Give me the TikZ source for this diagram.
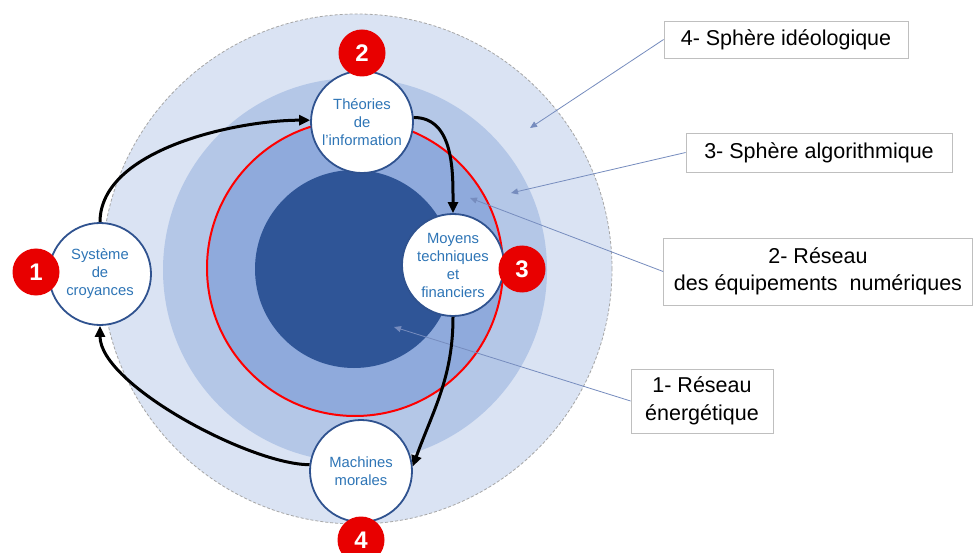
\documentclass[tikz,border=0pt]{standalone}
\usepackage{fontspec}
\setmainfont{Liberation Sans}
\usetikzlibrary{arrows.meta}
\definecolor{sphereIdeo}{RGB}{218,227,243}
\definecolor{sphereAlgo}{RGB}{180,199,231}
\definecolor{reseauNum}{RGB}{143,170,220}
\definecolor{reseauEnergie}{RGB}{47,85,151}
\definecolor{rimGrey}{RGB}{166,166,166}
\definecolor{nodeRim}{RGB}{47,82,143}
\definecolor{nodeText}{RGB}{46,117,182}
\definecolor{badgeRed}{RGB}{232,0,0}
\definecolor{boxRim}{RGB}{191,191,191}
\definecolor{leader}{RGB}{118,140,190}
\begin{document}
\begin{tikzpicture}[x=1pt,y=1pt,
  stage/.style={circle, draw=nodeRim, line width=1.8pt, fill=white, minimum size=102pt,
    inner sep=0pt, align=center, text=nodeText, font=\fontsize{14.8}{18}\selectfont},
  badge/.style={circle, fill=badgeRed, minimum size=47pt, inner sep=0pt, text=white,
    font=\fontsize{24}{24}\bfseries\selectfont},
  legend/.style={draw=boxRim, line width=0.8pt, fill=white, align=center, inner sep=0pt,
    font=\fontsize{21.5}{27.5}\selectfont},
  flow/.style={line width=3pt, -{Triangle[length=11pt,width=10pt]}},
  pointer/.style={draw=leader, line width=0.8pt, -{Triangle[length=7pt,width=6pt]}}
]
\useasboundingbox (0,0) rectangle (973,552);
\clip (0,0) rectangle (973,552);
\fill[white] (0,0) rectangle (973,552);

% concentric spheres
\filldraw[fill=sphereIdeo, draw=rimGrey, line width=0.8pt, dash pattern=on 3pt off 2pt]
  (357,283) circle[radius=255];
\fill[sphereAlgo] (355,282) circle[radius=192];
\fill[reseauNum] (355,284) circle[radius=148];
\fill[reseauEnergie] (354,283) circle[radius=99];
\draw[red, line width=2pt] (355,284) circle[radius=148];

% legend boxes
\node[legend, minimum width=244pt, minimum height=37pt] (l4) at (786,512.5) {4- Sphère idéologique};
\node[legend, minimum width=266pt, minimum height=39pt] (l3) at (819,399.5) {3- Sphère algorithmique};
\node[legend, minimum width=309pt, minimum height=67pt] (l2) at (818,280.5) {2- Réseau\\des équipements\ \ numériques};
\node[legend, minimum width=142pt, minimum height=64pt] (l1) at (702,151) {1- Réseau\\énergétique};

% leader lines into the spheres
\coordinate (p4) at (530,424);
\coordinate (p3) at (511,359);
\coordinate (p2) at (470,354);
\coordinate (p1) at (394,225);
\draw[pointer] (l4.west) -- (p4);
\draw[pointer] (l3.west) -- (p3);
\draw[pointer] (l2.west) -- (p2);
\draw[pointer] (l1.west) -- (p1);

% cycle stages
\node[stage] (sys) at (100,278) {Système\\de\\croyances};
\node[stage] (theo) at (362,430) {Théories\\de\\l'information};
\node[stage] (moy) at (453,287) {Moyens\\techniques\\et\\financiers};
\node[stage] (mach) at (361,81) {Machines\\morales};

% cycle arrows
\draw[flow] (sys.north) to[out=90,in=180,looseness=0.8] (theo.178);
\draw[flow] (theo.5) to[out=0,in=90] (moy.north);
\draw[flow] (moy.south) to[out=-90,in=70] (mach.5);
\draw[flow] (mach.173) to[out=180,in=-90,looseness=0.6] (sys.south);

% numbered badges
\node[badge] (b1) at (36,280) {1};
\node[badge] (b2) at (362,499) {2};
\node[badge] (b3) at (522,283) {3};
\node[badge] (b4) at (361,12) {4};
\end{tikzpicture}
\end{document}
